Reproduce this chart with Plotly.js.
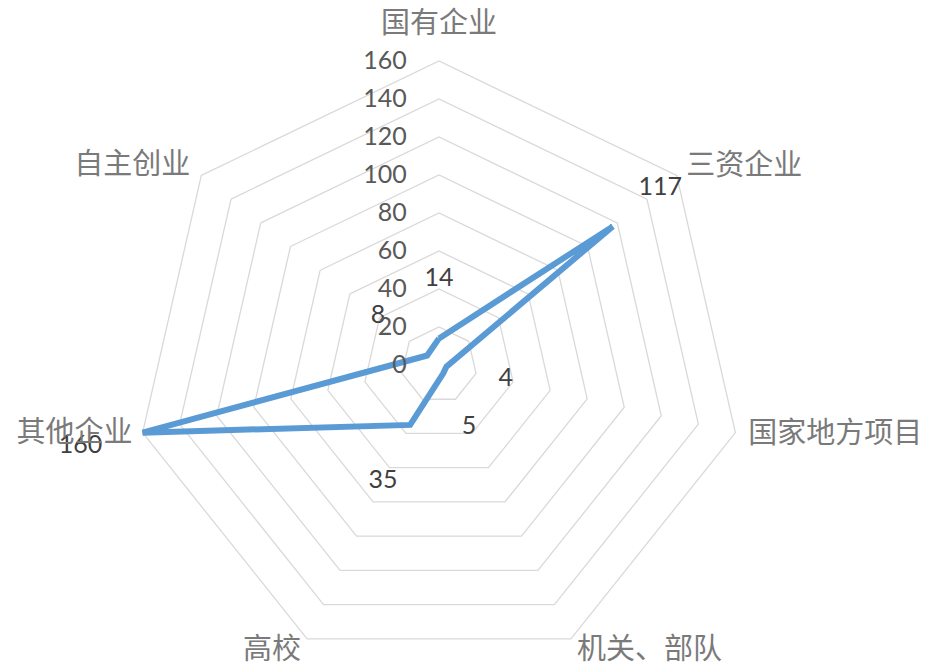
<!DOCTYPE html>
<html><head><meta charset="utf-8">
<script src="https://cdn.plot.ly/plotly-3.0.1.min.js"></script>
<style>html,body{margin:0;padding:0;overflow:hidden;background:#fff;width:930px;height:666px}#chart{width:930px;height:770px;margin-top:-20px}</style>
</head><body><div id="chart"></div>
<script>
const categories = ['国有企业','三资企业','国家地方项目','机关、部队','高校','其他企业','自主创业'];
const values = [14, 117, 4, 5, 35, 160, 8];
const radialTicks = [0, 20, 40, 60, 80, 100, 120, 140, 160];

// layout: where the value labels and category labels sit (radial distance, Excel-like placement)
const valueLabelRadius = [45, 149, 36, 36.5, 68, 193.5, 41];
const catLabelRadius = [178.5, 166.5, 167, 167.5, 167.5, 165.5, 167.5];
const catLabelPos = ['middle center', 'middle right', 'middle right', 'middle right', 'middle left', 'middle left', 'middle left'];

// plot div is 770 tall, shifted up 20px; radial range extends to 200 so labels fit inside it
const W = 930, H = 770, CX = 439, CY = 385, RMAX = 200, R = 304 * RMAX / 160;

const lineTrace = {
  type: 'scatterpolar',
  mode: 'lines',
  r: values.concat([values[0]]),
  theta: categories.concat([categories[0]]),
  line: {color: '#5b9bd5', width: 6, shape: 'linear'},
  hoverinfo: 'skip',
  showlegend: false
};

const labelTrace = {
  type: 'scatterpolar',
  mode: 'text',
  r: valueLabelRadius,
  theta: categories,
  text: values.map(String),
  textposition: 'middle center',
  textfont: {family: 'Lato, "Open Sans", sans-serif', size: 25, color: '#404040'},
  cliponaxis: false,
  hoverinfo: 'skip',
  showlegend: false
};

const catTrace = {
  type: 'scatterpolar',
  mode: 'text',
  r: catLabelRadius,
  theta: categories,
  text: categories,
  textposition: catLabelPos,
  textfont: {family: '"Noto Sans CJK SC", sans-serif', size: 29, color: '#7a7a7a'},
  cliponaxis: false,
  hoverinfo: 'skip',
  showlegend: false
};

const layout = {
  width: W, height: H,
  margin: {l: 0, r: 0, t: 0, b: 0},
  paper_bgcolor: '#ffffff',
  showlegend: false,
  polar: {
    domain: {x: [(CX - R) / W, (CX + R) / W], y: [(H - CY - R) / H, (H - CY + R) / H]},
    gridshape: 'linear',
    bgcolor: 'rgba(0,0,0,0)',
    radialaxis: {
      range: [0, RMAX],
      tickvals: radialTicks,
      ticktext: radialTicks.map(String),
      angle: 90,
      side: 'counterclockwise',
      tickangle: 90,
      showline: false,
      showgrid: true,
      gridcolor: '#d9d9d9',
      gridwidth: 1.3,
      ticks: 'outside',
      ticklen: 23,
      tickcolor: 'rgba(0,0,0,0)',
      tickfont: {family: 'Lato, "Open Sans", sans-serif', size: 25, color: '#595959'}
    },
    angularaxis: {
      type: 'category',
      categoryarray: categories,
      direction: 'clockwise',
      rotation: 90,
      showgrid: false,
      showline: false,
      ticks: '',
      showticklabels: false
    }
  }
};

Plotly.newPlot('chart', [lineTrace, labelTrace, catTrace], layout, {staticPlot: true, displayModeBar: false});
</script>
</body></html>
